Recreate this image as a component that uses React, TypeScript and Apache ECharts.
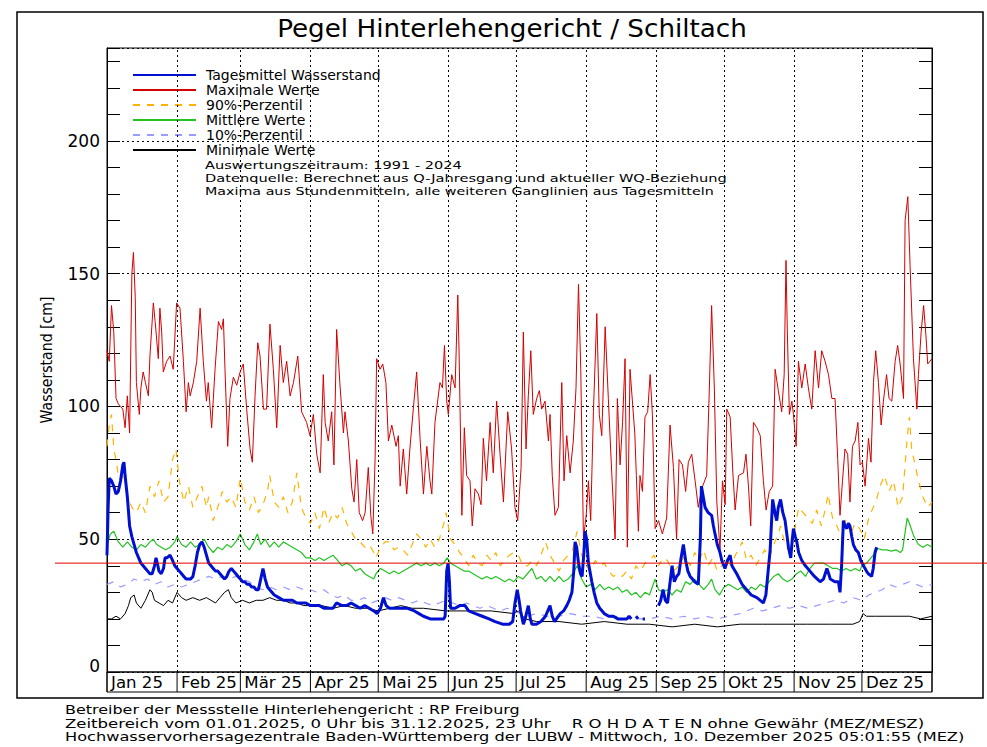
import React, { useEffect, useRef } from 'react';
import * as echarts from 'echarts';

const FONT = '"DejaVu Sans", "Liberation Sans", sans-serif';

const titleText = 'Pegel Hinterlehengericht / Schiltach';
const yAxisName = 'Wasserstand [cm]';
const monthLabels = ['Jan 25', 'Feb 25', 'Mär 25', 'Apr 25', 'Mai 25', 'Jun 25', 'Jul 25', 'Aug 25', 'Sep 25', 'Okt 25', 'Nov 25', 'Dez 25'];
const monthStartDays = [0, 31, 59, 90, 120, 151, 181, 212, 243, 273, 304, 334, 365];
const yMin = 0;
const yMax = 235;
const yTickStep = 10;
const yLabelStep = 50;
const warnLevel = 41;

const seriesNames = ['Tagesmittel Wasserstand', 'Maximale Werte', '90%-Perzentil', 'Mittlere Werte', '10%-Perzentil', 'Minimale Werte'];
const infoLines = [
  'Auswertungszeitraum: 1991 - 2024',
  'Datenquelle: Berechnet aus Q-Jahresgang und aktueller WQ-Beziehung',
  'Maxima aus Stundenmitteln, alle weiteren Ganglinien aus Tagesmitteln',
];
const footerLines = [
  'Betreiber der Messstelle Hinterlehengericht : RP Freiburg',
  'Zeitbereich vom 01.01.2025, 0 Uhr bis 31.12.2025, 23 Uhr    R O H D A T E N ohne Gewähr (MEZ/MESZ)',
  'Hochwasservorhersagezentrale Baden-Württemberg der LUBW - Mittwoch, 10. Dezember 2025 05:01:55 (MEZ)',
];

// [day of year, cm]
const maxWerte = [
  [0,121],[1,117],[2,138],[3,128],[4,103],[5,101],[6,100],[7,99],[8,92],[9,104],[10,90],[11,150],[11.7,158],[12.5,141],[13,109],[14.3,97],[15,107],[16,113],[17,109],[18.3,104],[19,119],[20.5,139],[21.3,132],[22.7,118],[23.4,137],[24.2,128],[24.9,113],[26.4,117],[27.9,119],[29.3,114],[30.8,139],[32.3,137],[33.8,117],[35,98],[36,109],[36.8,104],[38.2,109],[39.7,117],[41.2,137],[42.6,117],[44,102],
  [44.8,109],[46.3,92],[47.8,114],[49.3,132],[50.7,129],[51.5,133],[52.2,114],[53.4,85],[54.4,103],[55.9,111],[57.4,108],[58.9,113],[60.3,116],[61.8,99],[63.3,84],[64.3,79],[65.5,104],[66.7,124],[67.7,119],[69.2,99],[70.6,99],[72.1,131],[73.6,114],[75.1,92],[76.6,123],[78,109],[79.5,117],[81,104],[82.5,109],[84.4,119],[86.1,98],[88.3,94],[89.8,89],
  [91.3,97],[92.8,82],[94.3,75],[95.7,112],[96.5,94],[97.9,87],[99.4,98],[100.4,78],[101.6,129],[103,109],[104.6,90],[105.3,98],[106.8,87],[108.3,69],[109.3,64],[110.5,80],[111.6,60],[113.1,57],[114.2,60],[115.6,77],[116.7,59],[117.6,52],[118.6,80],[119.3,118],[120.8,114],[122,116],[123.4,109],[124.5,87],[126,93],[127.9,85],[128.9,89],[129.7,70],[131.1,84],[132.6,67],[134,84],[135.5,99],[137,113],
  [138.5,88],[140,67],[141.5,85],[142.9,72],[143.7,67],[145.1,94],[147.3,109],[148.4,107],[149.3,123],[150.3,102],[151,97],[152.5,112],[154,107],[155.2,142],[155.8,119],[157,59],[158.1,92],[159.1,74],[160.6,72],[161.6,55],[162.8,69],[164.3,67],[165.5,63],[166.5,88],[167.9,72],[169.5,94],[170.9,75],[172.4,102],[173.9,82],[175.4,64],[177.3,98],[179,84],[180.5,62],[181.7,57],[183.2,77],[184.2,128],
  [185.4,84],[186.4,104],[187.5,121],[188.6,97],[190.1,103],[191.3,106],[192.3,99],[193.8,102],[195.3,87],[196,97],[197,74],[198.2,59],[199.7,62],[201.2,109],[202.2,72],[203.4,89],[204.9,75],[206.3,87],[207.5,107],[208.6,146],[209.6,114],[210.8,50],[212,59],[213,72],[214,57],[215.2,98],[216.7,135],[217.8,97],[218.9,89],[220.4,130],[221.8,103],[223.3,75],[224.8,50],[225.8,103],[227,78],[228.1,94],[229.2,118],[230.2,47],[231.4,114],
  [233.5,90],[234.2,74],[235.1,53],[235.8,74],[236.9,68],[238,96],[239.2,98],[240.3,112],[241.3,97],[242.5,54],[244,57],[245.7,52],[247.6,58],[249.1,93],[250.6,77],[252,50],[253.1,80],[254.6,78],[256,68],[257.2,79],[258.7,82],[260.2,72],[261.6,62],[263.1,69],[265.3,74],[266.4,104],[267.5,138],[268.7,107],[269.8,64],[271.2,46],[272.3,72],[273.5,63],[274.2,99],[275.7,96],[276.9,75],
  [277.9,61],[279.4,74],[281.6,75],[282.7,82],[283.8,70],[284.8,55],[286,94],[287.5,92],[289,89],[290.4,72],[291.6,61],[293,68],[294.5,70],[295.6,114],[297,106],[298.5,98],[299.6,112],[300.4,155],[301,128],[301.9,97],[303,102],[303.7,97],[304.9,85],[305.9,117],[307.4,107],[308.9,116],[310.3,107],[311.8,99],[313.3,121],[314.8,107],[316.2,121],[317.7,117],[319.2,112],[320.7,103],[322.1,103],
  [323.3,80],[324.3,59],[325.4,72],[326.5,84],[327.7,82],[328.7,64],[329.8,85],[331,87],[332.2,94],[333.2,78],[334.2,79],[335.4,70],[336.9,88],[338,79],[339.1,109],[340.1,121],[341.3,109],[342.5,93],[343.5,102],[344.9,112],[346,103],[347.2,102],[348.7,117],[349.8,123],[350.9,116],[352.4,103],[353.1,170],[354.3,179],[355.3,153],[356.8,118],[358.3,99],[359,112],[360.2,128],[361.3,138],[362.3,127],[363.1,116],[365,118],
];

const perzentil90 = [
  [0,85],[1,93],[2,97],[3,84],[4,80],[5,74],[6,72],[8,75],[9,66],[11,62],[13,60],[15,64],[17,60],[19,70],[21,66],[23,72],[25,64],[27,66],[29,80],[30.5,84],[32,72],[34,64],[36,70],[38,62],[40,66],[42,70],[44,62],
  [45,66],[47,57],[49,62],[51,68],[53,64],[55,66],[57,62],[59,73],[61,64],[63,61],[65,66],[67,60],[69,63],[71,68],[72,74],[74,64],[76,62],[78,66],[80,60],[82,64],[84,75],[86,62],[88,58],[90,56],
  [92,60],[94,54],[96,62],[98,56],[100,60],[102,58],[104,62],[106,56],[108,53],[110,50],[112,49],[114,47],[116,48],[118,45],[119,43],[121,47],[123,49],[125,49],[127,46],[129,47],[131,46],[133,44],[135,48],[137,52],
  [139,50],[141,47],[143,50],[145,47],[147,50],[149,56],[150,60],[152,50],[154,48],[156,45],[158,43],[160,40],[162,44],[164,41],[166,40],[168,44],[170,42],[172,45],[174,40],[176,42],[178,44],[180,45],[182,44],[184,40],
  [186,40],[188,42],[190,40],[192,44],[194,49],[196,44],[198,41],[200,38],[202,42],[204,44],[206,46],[208,53],[210,44],[212,40],[214,38],[216,42],[218,40],[220,41],[222,38],[224,36],[226,37],
  [228,36],[230,38],[232,35],[234,40],[236,38],[238,41],[240,42],[242,44],[244,40],[246,43],[248,42],[250,38],[252,39],[254,42],[256,44],[258,40],[260,45],[262,42],[264,46],[266,40],[268,43],[270,38],[272,40],[274,43],[276,40],
  [278,44],[280,47],[281,49],[283,42],[285,44],[287,40],[289,43],[291,46],[293,43],[295,48],[297,52],[298,55],[300,48],[302,45],[304,52],[306,62],[308,60],[310,58],[312,56],[314,61],[316,55],[318,62],[319,67],[321,58],
  [323,55],[325,50],[327,58],[329,52],[331,56],[333,54],[335,50],[337,58],[339,62],[340.5,65],[342,70],[344,74],[346,68],[348,72],[350,62],[352,66],[354,88],[355,96],[356,84],[357,80],[359,72],[361,66],[363,62],[365,64],
];

const mittlereWerte = [
  [0,48],[1.5,52],[3,53],[5,49],[7,47],[9,49],[11,47],[13,46],[15,48],[17,47],[19,49],[20.5,50],[22,48],[24,47],[26,46],[28,47],[30,49],[31,51],[33,48],[35,47],[37,49],[39,47],[41,48],[43,50],
  [45,47],[47,45],[49,47],[51,46],[53,48],[55,47],[57,49],[59,52],[61,48],[63,46],[65,49],[66.5,52],[68,48],[70,50],[72,47],[74,49],[76,47],[78,49],[80,48],[82,47],[84,46],[86,45],[88,43],[90,43],
  [92,42],[94,43],[96,42],[98,43],[100,44],[102,42],[104,40],[106,41],[108,40],[110,38],[112,39],[114,37],[116,36],[118,35],[119,37],[121,39],[123,38],[125,37],[127,38],[129,37],[131,38],[133,39],[135,40],[137,41],
  [139,40],[141,41],[143,40],[145,41],[147,40],[149,41],[150.5,43],[152,41],[154,40],[156,39],[158,38],[160,38],[162,37],[164,36],[166,35],[168,36],[170,35],[172,36],[174,35],[176,34],[178,35],[180,34],[182,36],[184,35],
  [186,37],[188,39],[190,35],[192,36],[194,34],[196,36],[198,34],[200,36],[202,34],[204,35],[206,37],[208,40],[210,35],[212,32],[214,33],[216,31],[218,33],[220,31],[222,32],[224,31],[226,32],[228,30],[230,31],
  [232,29],[234,30],[236,28],[238,30],[240,29],[242.5,35],[244,31],[246,30],[248,31],[250,29],[252,31],[254,30],[256,34],[258,33],[260,35],[262,33],[264,31],[266,33],[267.5,35],[269,31],[271,29],[273,32],[275,33],[277,32],
  [279,31],[281,32],[283,30],[285,32],[287,31],[289,33],[291,32],[293,34],[295,36],[297,37],[299,35],[301,34],[303,35],[305,37],[307,38],[309,36],[311,39],[313,41],[315,41],[317,41],[319,40],[321,39],
  [323,39],[325,38],[327,39],[329,38],[331,39],[333,38],[334,40],[336,41],[338,43],[340,45],[341,46.5],[343,46],[345,46],[347,45.5],[349,46],[351,45],[352,46],[353,52],[354,58],[355,56],[357,51],[359,48],[361,47],[363,48],[365,47],
];

const perzentil10 = [
  [0,33],[3,34],[6,32],[9,33],[12,35],[15,34],[18,35],[21,33],[24,34],[27,32],[30,33],[33,32],[36,33],[39,34],[42,35],[45,36],[48,35],[51,36],[54,35],[57,36],[60,35],[63,34],[66,32],[69,31],[72,32],[75,31],[78,32],[81,31],[84,32],[87,31],
  [90,31],[93,30],[96,31],[99,29],[102,28],[105,29],[108,27],[111,27],[114,28],[117,26],[120,27],[123,28],[126,27],[129,28],[132,27],[135,26],[138,27],[141,26],[144,25],[147,26],[150,27],[153,26],[156,25],[159,26],[162,25],[165,24],[168,25],[171,24],[174,23],[177,24],[180,23],
  [183,22],[186,21],[190,22],[195,21],[200,21],[205,22],[210,21],[215,21],[220,20],[225,21],[230,20],[235,20],[240,20],[245,21],[250,20],[255,21],[260,20],[265,21],[270,20],[275,21],[280,22],[283,23],[286,24],[290,23],[294,24],[298,25],[302,24],[306,25],[310,24],[314,25],[318,26],
  [322,27],[326,26],[330,28],[334,27],[337,29],[340,30],[343,31],[346,33],[349,32],[352,33],[355,34],[358,33],[361,32],[365,33],
];

const minimaleWerte = [
  [0,20],[2,20],[4,21],[6,20],[8,22],[9.5,25],[10.5,28],[12,29],[13,26],[15,24],[17,27],[19,31],[20,30],[21,27],[23,26],[25,25],[27,27],[29,26],[31,30],[33,28],[35,27],[38,28],[41,27],[44,28],[46,27],[48,26],[50,28],[52,30],[53.7,31],[55,28],[57,26],[60,27],[63,26],[66,27],[69,27],[72,28],[75,27],[78,27],[81,26],[84,26],[87,25],
  [90,25],[95,25],[100,24],[105,25],[110,24],[115,24],[120,23],[125,24],[130,25],[135,24],[140,24],[150,23],[160,23],[170,23],[180,22],[182,23],[185,20],[190,19],[200,19],[210,18],[220,19],[230,18],[240,18],[250,17],[260,18],[270,17],[280,18],[290,18],[300,18],[310,18],[320,18],[330,18],[333,19],[334.5,22],[336,21],[340,21],[345,21],[350,21],[355,21],[360,20],[365,21],
];

const tagesmittel = [
  [0,44],[0.5,62],[1,73],[2,72],[3,70],[4,67],[5,68],[6,72],[7,78],[7.5,79],[8,74],[9,66],[10,55],[11,51],[12,48],[13,45],[14,43],[15,41],[16,40],[17,39],[18,38],[19,37],[20,37],[21,40],[21.7,43],[22.5,40],[23,38],[24,37],[25,39],[25.7,43],[26.5,43],[27.9,44],[29,42],[30,40],[31,39],[32,38],[33,37],[34,36],[35,35],[36,35],[37,35],[38,36],[39,40],[40,45],[41,48],[42,49],[43,47],[44,44],
  [45,41],[46,40],[47,39],[48,38],[49,38],[50,37],[51,36],[52,35],[53,36],[54,38],[55,39],[56,38],[57,37],[58,36],[59,35],[60,34],[61,34],[62,33],[63,33],[64,32],[65,32],[66,31],[67,31],[68,35],[69,39],[70,35],[71,32],[72,31],[74,29],[76,28],[78,27],[80,27],[82,27],[84,26],[86,26],[88,26],
  [90,25],[92,25],[94,25],[96,24],[98,24],[100,24],[101.5,26],[104,25],[106,25],[108,26],[110,25],[112,24],[114,25],[116,24],[118,23],[119.5,22],[121,24],[122.3,28],[123.5,25],[125,24],[127,24],[130,24],[133,24],[136,23],[138,22],[140,21],[143,20],[146,20],[149,20],
  [149.6,21],[150.3,38],[150.9,41],[151.5,34],[152,24],[154,24],[156,25],[158.4,25],[160,23],[163,22],[166,21],[169,20],[171.7,19],[175,18],[178,18],[179.5,19],[180.5,26],[181.5,31],[182.3,27],[183,23],[184.2,18],[185,20],[186.4,25],[187.3,20],[188,18],[190,18],[192,19],[194,21],[196,25],[197,21],[198,19],[200.5,22],[202,23],[203.4,25],[204.5,27],[205.7,30],
  [206.5,38],[207.1,49],[207.8,47],[208.6,41],[209.5,37],[210.2,36],[211,45],[211.5,53],[212.2,50],[213,41],[214.5,34],[215.5,30],[216.7,26],[218,24],[220,22],[222,21],[224,21],[226,20],[228,20],[230,20],[231,21],[232,20],[233,'-'],[234,21],[235,20],[236,'-'],[237,20],[238,20],[239,'-'],
  [244,25],[245,27],[246,31],[247,27],[248,26],[249,33],[250,40],[251,34],[252,36],[253,37],[254,43],[255,48],[256,42],[257,38],[258,36],[259,35],[260,34],[261.6,33],[262.5,50],[263,70],[264,65],[264.6,62],[266,60],[267.5,59],[268.3,55],[269,52],[270,48],[271.2,45],[272,42],[273.4,39],[274.5,42],[275.7,44],
  [276.5,40],[278.6,37],[281,33],[283,31],[285,29],[287.5,28],[289,27],[290.4,26],[291.5,29],[292.5,38],[293.4,46],[294.5,65],[295.5,60],[296.3,57],[297,62],[298,65],[299,60],[300,57],[301.5,47],[302.5,43],[303.2,50],[303.7,54],[304.5,51],[305.2,49],[306,45],[307.4,42],[309,40],[311,38],[313,36],[315.5,34],[317,35],[318.5,39],[319.3,37],[320,35],[322,34],
  [323.6,34],[324.3,30],[325,40],[325.8,57],[326.5,55],[327.3,54],[328,56],[328.7,55],[329.5,51],[330.2,48],[331.3,46],[332.4,45],[333.5,42],[334.7,40],[336,38],[336.8,37],[338.3,36],[339,39],[339.8,45],[340.5,47],
];

let measureCtx: CanvasRenderingContext2D | null = null;
function textScale(text: string, px: number, target: number) {
  if (!measureCtx) measureCtx = document.createElement('canvas').getContext('2d');
  if (!measureCtx) return 1;
  measureCtx.font = `${px}px ${FONT}`;
  const w = measureCtx.measureText(text).width;
  return w > 0 ? target / w : 1;
}

export default function App() {
  const ref = useRef<HTMLDivElement>(null);
  useEffect(() => {
    if (!ref.current) return;
    const chart = echarts.init(ref.current, null, { renderer: 'svg' });
    const lineSeries = (name: string, data: any[], color: string, width: number, type: any, z: number) => ({
      type: 'line', name, data, symbol: 'none', showSymbol: false, connectNulls: false, z,
      lineStyle: { color, width, type }, itemStyle: { color }, emphasis: { disabled: true }, silent: true,
    });
    const tickAxis = (position: string, labels: boolean) => ({
      type: 'value', position, min: yMin, max: yMax, interval: yTickStep,
      axisLine: { show: true, lineStyle: { color: '#000', width: 1 } },
      axisTick: { show: true, inside: true, length: 13, lineStyle: { color: '#000', width: 1 } },
      axisLabel: labels ? {
        show: true, margin: 7, fontSize: 17, fontFamily: FONT, color: '#000',
        formatter: (v: number) => (v === 0 ? '{z|0}' : v % yLabelStep === 0 ? String(v) : ''),
        rich: { z: { fontSize: 17, fontFamily: FONT, color: '#000', padding: [0, 0, 12, 0] } },
      } : { show: false },
      splitLine: { show: false },
    });
    chart.setOption({
      animation: false,
      backgroundColor: '#fff',
      grid: { left: 107, right: 55, top: 48, bottom: 75, show: true, borderColor: '#000', borderWidth: 1, backgroundColor: 'transparent' },
      xAxis: {
        type: 'value', min: 0, max: 365,
        axisLine: { show: false }, axisTick: { show: false }, axisLabel: { show: false }, splitLine: { show: false },
      },
      yAxis: [
        tickAxis('left', true),
        tickAxis('right', false),
        {
          type: 'value', min: yMin, max: yMax, interval: yLabelStep, position: 'left',
          axisLine: { show: false }, axisTick: { show: false }, axisLabel: { show: false },
          splitLine: { show: true, lineStyle: { color: '#000', width: 1, type: [2, 3] } },
        },
      ],
      legend: {
        orient: 'vertical', left: 127, top: 63, itemWidth: 63, itemHeight: 14, itemGap: 1,
        data: seriesNames, selectedMode: false,
        itemStyle: { opacity: 0, borderWidth: 0 },
        textStyle: { fontSize: 14, fontFamily: FONT, color: '#000', padding: [0, 0, 0, 5] },
      },
      series: [
        {
          type: 'line', name: 'Monatsgrenzen', data: [], silent: true,
          markLine: {
            silent: true, symbol: ['none', 'none'], label: { show: false },
            lineStyle: { color: '#000', width: 1, type: [2, 3] },
            data: monthStartDays.slice(1, -1).map((d) => ({ xAxis: d })),
          },
        },
        lineSeries(seriesNames[5], minimaleWerte, '#000000', 1, 'solid', 2),
        lineSeries(seriesNames[4], perzentil10, '#9a9aff', 1.2, [7, 7], 3),
        lineSeries(seriesNames[3], mittlereWerte, '#22c322', 1.2, 'solid', 4),
        lineSeries(seriesNames[2], perzentil90, '#ffb300', 1.2, [7, 7], 5),
        lineSeries(seriesNames[1], maxWerte, '#d40000', 1, 'solid', 6),
        lineSeries(seriesNames[0], tagesmittel, '#0010d0', 3, 'solid', 7),
      ],
    });

    const px = (d: number, v: number) => chart.convertToPixel({ xAxisIndex: 0, yAxisIndex: 0 }, [d, v]) as number[];
    const [x0, yTop] = px(0, yMax);
    const [x1, yBot] = px(365, yMin);
    const stripH = 20;
    const graphics: any[] = [];
    graphics.push({ type: 'rect', shape: { x: 17, y: 12, width: 966, height: 686 }, style: { fill: 'none', stroke: '#000', lineWidth: 1.5 }, z: 0, silent: true });
    graphics.push({ type: 'text', x: 512, y: 28, scaleX: textScale(titleText, 25, 470), style: { text: titleText, font: `25px ${FONT}`, fill: '#000', textAlign: 'center', textVerticalAlign: 'middle' }, z: 10 });
    graphics.push({ type: 'text', x: 47, y: (yTop + yBot) / 2, rotation: Math.PI / 2, scaleX: textScale(yAxisName, 16, 127), style: { text: yAxisName, font: `16px ${FONT}`, fill: '#000', textAlign: 'center', textVerticalAlign: 'middle' }, z: 10 });
    graphics.push({ type: 'rect', shape: { x: x0, y: yBot, width: x1 - x0, height: stripH }, style: { fill: 'none', stroke: '#000', lineWidth: 1 }, z: 10 });
    monthStartDays.forEach((d, i) => {
      const [mx] = px(d, 0);
      graphics.push({ type: 'line', shape: { x1: mx, y1: yBot, x2: mx, y2: yBot + stripH }, style: { stroke: '#000', lineWidth: 1 }, z: 10 });
      if (i < monthLabels.length) {
        graphics.push({ type: 'text', x: mx + 4, y: yBot + stripH / 2 + 1, scaleX: textScale('Jan 25', 15, 52), style: { text: monthLabels[i], font: `15px ${FONT}`, fill: '#000', textAlign: 'left', textVerticalAlign: 'middle' }, z: 10 });
      }
    });
    const [, wy] = px(0, warnLevel);
    graphics.push({ type: 'line', shape: { x1: 55, y1: wy, x2: 987, y2: wy }, style: { stroke: '#e00000', lineWidth: 1 }, z: 20 });
    const infoWidths = [257, 522, 509];
    infoLines.forEach((t, i) => {
      graphics.push({ type: 'text', x: 205, y: 165 + i * 13, scaleX: textScale(t, 11, infoWidths[i]), style: { text: t, font: `11px ${FONT}`, fill: '#000', textAlign: 'left', textVerticalAlign: 'middle' }, z: 10 });
    });
    const footerWidths = [455, 860, 900];
    footerLines.forEach((t, i) => {
      graphics.push({ type: 'text', x: 65, y: 710 + i * 13.5, scaleX: textScale(t, 12, footerWidths[i]), style: { text: t, font: `12px ${FONT}`, fill: '#000', textAlign: 'left', textVerticalAlign: 'middle' }, z: 10 });
    });
    chart.setOption({ graphic: graphics });
    return () => chart.dispose();
  }, []);
  return <div ref={ref} style={{ position: 'fixed', left: 0, top: 0, width: 987, height: 747, background: '#fff' }} />;
}
